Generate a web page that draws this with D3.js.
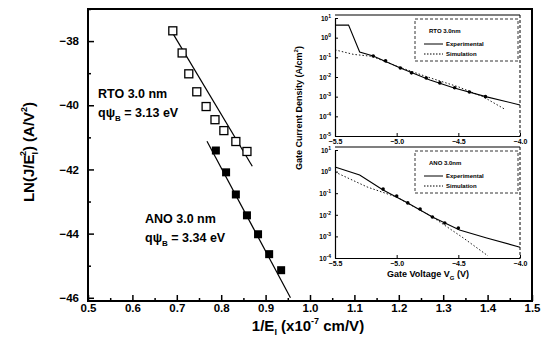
<!DOCTYPE html>
<html>
<head>
<meta charset="utf-8">
<script src="https://cdn.jsdelivr.net/npm/d3@7"></script>
<style>
  body { margin: 0; background: #fff; }
  svg { font-family: "Liberation Sans", Arial, sans-serif; font-weight: bold; }
</style>
</head>
<body>
<div id="chart"></div>
<script>
// main plot: ln(J/E^2) vs 1/E
const rtoX = [0.691, 0.712, 0.727, 0.745, 0.766, 0.786, 0.806, 0.833, 0.858];
const rtoY = [-37.68, -38.37, -39.02, -39.58, -40.04, -40.45, -40.79, -41.13, -41.44];
const anoX = [0.788, 0.811, 0.833, 0.858, 0.883, 0.908, 0.935];
const anoY = [-41.41, -42.09, -42.78, -43.43, -44.02, -44.64, -45.14];
const rtoFitX = [0.685, 0.870];
const rtoFitY = [-37.62, -41.90];
const anoFitX = [0.768, 0.956];
const anoFitY = [-41.12, -46.0];
const xTicks = [0.5, 0.6, 0.7, 0.8, 0.9, 1.0, 1.1, 1.2, 1.3, 1.4, 1.5];
const yTicks = [-38, -40, -42, -44, -46];

// inset: gate current density (log10) vs gate voltage
const vTicks = [-5.5, -5.0, -4.5, -4.0];
const topExpTicks = [1, 0, -1, -2, -3, -4, -5];
const botExpTicks = [1, 0, -1, -2, -3, -4];
const rtoExpV = [-5.5, -5.39, -5.30, -5.19, -4.97, -4.73, -4.54, -4.27, -4.0];
const rtoExpJ = [0.64, 0.64, -0.73, -0.93, -1.54, -2.15, -2.55, -3.01, -3.42];
const rtoSimV = [-5.5, -5.35, -5.2, -5.0, -4.75, -4.5, -4.3, -4.12];
const rtoSimJ = [-0.62, -0.85, -0.95, -1.45, -2.0, -2.5, -3.0, -3.65];
const rtoDotV = [-5.19, -5.09, -4.97, -4.88, -4.76, -4.65, -4.53, -4.41, -4.28];
const rtoDotJ = [-0.93, -1.18, -1.54, -1.79, -2.05, -2.30, -2.55, -2.76, -3.0];
const anoExpV = [-5.5, -5.30, -5.11, -4.91, -4.71, -4.49, -4.27, -4.0];
const anoExpJ = [0.21, -0.16, -0.85, -1.45, -2.10, -2.70, -3.07, -3.5];
const anoSimV = [-5.5, -5.24, -5.0, -4.71, -4.46, -4.26];
const anoSimJ = [-0.02, -0.71, -1.18, -2.1, -3.07, -3.9];
const anoDotV = [-5.11, -5.0, -4.91, -4.81, -4.71, -4.61, -4.50];
const anoDotJ = [-0.81, -1.13, -1.45, -1.73, -2.10, -2.38, -2.61];

const width = 545, height = 345;
const svg = d3.select('#chart').append('svg')
  .attr('width', width)
  .attr('height', height);

const x = d3.scaleLinear().domain([0.5, 1.5]).range([88, 532]);
const y = d3.scaleLinear().domain([-46.1, -37]).range([301, 9]);

// frame
svg.append('rect')
  .attr('x', x(0.5)).attr('y', y(-37))
  .attr('width', x(1.5) - x(0.5)).attr('height', y(-46.1) - y(-37))
  .attr('fill', 'none').attr('stroke', '#000').attr('stroke-width', 2);

// axes (ticks inward)
const xAxis = svg.append('g')
  .attr('transform', `translate(0,${y(-46.1)})`)
  .call(d3.axisBottom(x).tickValues(xTicks).tickSize(-6).tickSizeOuter(0).tickPadding(3).tickFormat(d3.format('.1f')));
svg.append('g')
  .attr('transform', `translate(0,${y(-46.1)})`)
  .call(d3.axisBottom(x).tickValues(d3.range(0.55, 1.5, 0.1)).tickSize(-3).tickSizeOuter(0).tickFormat(''));
const yAxis = svg.append('g')
  .attr('transform', `translate(${x(0.5)},0)`)
  .call(d3.axisLeft(y).tickValues(yTicks).tickSize(-6).tickSizeOuter(0).tickPadding(9));
svg.append('g')
  .attr('transform', `translate(${x(0.5)},0)`)
  .call(d3.axisLeft(y).tickValues([-37, -39, -41, -43, -45]).tickSize(-3).tickSizeOuter(0).tickFormat(''));
svg.selectAll('.domain').remove();
svg.selectAll('.tick line').attr('stroke-width', 1.5);
xAxis.selectAll('text').style('font-size', '11.5px').style('font-weight', 'bold');
yAxis.selectAll('text').style('font-size', '11.5px').style('font-weight', 'bold');

// fit lines
const line = d3.line().x(d => x(d[0])).y(d => y(d[1]));
svg.append('path').datum(d3.zip(rtoFitX, rtoFitY))
  .attr('d', line).attr('stroke', '#000').attr('stroke-width', 1.2).attr('fill', 'none');
svg.append('path').datum(d3.zip(anoFitX, anoFitY))
  .attr('d', line).attr('stroke', '#000').attr('stroke-width', 1.2).attr('fill', 'none');

// points
const s = 8;
svg.selectAll('.rto').data(d3.zip(rtoX, rtoY)).enter().append('rect')
  .attr('x', d => x(d[0]) - s / 2).attr('y', d => y(d[1]) - s / 2)
  .attr('width', s).attr('height', s)
  .attr('fill', '#fff').attr('stroke', '#000').attr('stroke-width', 1.3);
svg.selectAll('.ano').data(d3.zip(anoX, anoY)).enter().append('rect')
  .attr('x', d => x(d[0]) - s / 2).attr('y', d => y(d[1]) - s / 2)
  .attr('width', s).attr('height', s)
  .attr('fill', '#000');

// annotations
function psiLabel(xp, yp, first, value) {
  const t = svg.append('text').attr('x', xp).attr('y', yp).style('font-size', '12.5px');
  t.text(first);
  const t2 = svg.append('text').attr('x', xp).attr('y', yp + 19).style('font-size', '12.5px');
  t2.append('tspan').text('qψ');
  t2.append('tspan').attr('dy', 4).style('font-size', '8px').text('B');
  t2.append('tspan').attr('dy', -4).text(' = ' + value);
}
psiLabel(98, 98, 'RTO 3.0 nm', '3.13 eV');
psiLabel(145, 223, 'ANO 3.0 nm', '3.34 eV');

// axis titles
const xt = svg.append('text').attr('x', 308).attr('y', 331)
  .attr('text-anchor', 'middle').style('font-size', '15px');
xt.append('tspan').text('1/E');
xt.append('tspan').attr('dy', 4).style('font-size', '9px').text('I');
xt.append('tspan').attr('dy', -4).text(' (x10');
xt.append('tspan').attr('dy', -7).style('font-size', '9px').text('-7');
xt.append('tspan').attr('dy', 7).text(' cm/V)');

const yt = svg.append('text')
  .attr('transform', 'translate(34,152) rotate(-90)')
  .attr('text-anchor', 'middle').style('font-size', '15px');
yt.append('tspan').text('LN(J/E');
yt.append('tspan').attr('dy', 4).style('font-size', '9px').text('I');
yt.append('tspan').attr('dx', -4).attr('dy', -12).style('font-size', '9px').text('2');
yt.append('tspan').attr('dy', 8).text(') (A/V');
yt.append('tspan').attr('dy', -7).style('font-size', '9px').text('2');
yt.append('tspan').attr('dy', 7).text(')');

// ---------- inset ----------
const vx = d3.scaleLinear().domain([-5.5, -4.0]).range([335, 520]);
const topY = d3.scaleLinear().domain([-5, 1]).range([136, 18]);
const botY = d3.scaleLinear().domain([-4, 1]).range([258, 150]);

function panel(yScale, expTicks, expV, expJ, simV, simJ, dotV, dotJ, name, legTop) {
  const g = svg.append('g');
  const x0 = vx(-5.5), x1 = vx(-4.0);
  const yb = yScale(expTicks[expTicks.length - 1]), yt0 = yScale(expTicks[0]) - 3;
  g.append('rect').attr('x', x0).attr('y', yt0).attr('width', x1 - x0).attr('height', yb - yt0)
    .attr('fill', '#fff').attr('stroke', 'none');
  g.append('line').attr('x1', x0).attr('x2', x1).attr('y1', yt0).attr('y2', yt0)
    .attr('stroke', '#000').attr('stroke-width', 1.2);
  g.append('line').attr('x1', x1).attr('x2', x1).attr('y1', yt0).attr('y2', yb)
    .attr('stroke', '#000').attr('stroke-dasharray', '3,2');

  const ax = g.append('g').attr('transform', `translate(0,${yb})`)
    .call(d3.axisBottom(vx).tickValues(vTicks).tickSize(-3).tickSizeOuter(0).tickPadding(3).tickFormat(d3.format('.1f')));
  const ay = g.append('g').attr('transform', `translate(${x0},0)`)
    .call(d3.axisLeft(yScale).tickValues(expTicks).tickSize(-3).tickSizeOuter(0).tickPadding(3).tickFormat(''));
  ax.select('.domain').attr('stroke-width', 1.2);
  ay.select('.domain').attr('stroke-width', 1.2);
  ax.selectAll('text').style('font-size', '7px').style('font-weight', 'bold');
  ay.selectAll('.tick').append('text')
    .attr('x', -4).attr('dy', '0.35em').attr('text-anchor', 'end')
    .style('font-size', '6.5px').attr('fill', '#000')
    .each(function(d) {
      const t = d3.select(this);
      t.append('tspan').text('10');
      t.append('tspan').attr('dy', -3).style('font-size', '5px').text(d);
    });

  const ln = d3.line().x(d => vx(d[0])).y(d => yScale(d[1]));
  g.append('path').datum(d3.zip(simV, simJ)).attr('d', ln)
    .attr('fill', 'none').attr('stroke', '#000').attr('stroke-width', 0.9).attr('stroke-dasharray', '1.5,2');
  g.append('path').datum(d3.zip(expV, expJ)).attr('d', ln)
    .attr('fill', 'none').attr('stroke', '#000').attr('stroke-width', 1.1);
  g.selectAll('.dot').data(d3.zip(dotV, dotJ)).enter().append('circle')
    .attr('cx', d => vx(d[0])).attr('cy', d => yScale(d[1])).attr('r', 1.8).attr('fill', '#000');

  // legend
  const lx = 415, lw = 103;
  g.append('rect').attr('x', lx).attr('y', legTop).attr('width', lw).attr('height', 42)
    .attr('fill', '#fff').attr('stroke', '#000').attr('stroke-width', 0.8).attr('stroke-dasharray', '3,2');
  g.append('text').attr('x', lx + 14).attr('y', legTop + 14).style('font-size', '6px').text(name);
  g.append('line').attr('x1', lx + 9).attr('x2', lx + 28).attr('y1', legTop + 25).attr('y2', legTop + 25)
    .attr('stroke', '#000');
  g.append('text').attr('x', lx + 31).attr('y', legTop + 27).style('font-size', '6px').text('Experimental');
  g.append('line').attr('x1', lx + 9).attr('x2', lx + 28).attr('y1', legTop + 35).attr('y2', legTop + 35)
    .attr('stroke', '#000').attr('stroke-dasharray', '1.5,1.5');
  g.append('text').attr('x', lx + 31).attr('y', legTop + 37).style('font-size', '6px').text('Simulation');
}
panel(topY, topExpTicks, rtoExpV, rtoExpJ, rtoSimV, rtoSimJ, rtoDotV, rtoDotJ, 'RTO 3.0nm', 19);
panel(botY, botExpTicks, anoExpV, anoExpJ, anoSimV, anoSimJ, anoDotV, anoDotJ, 'ANO 3.0nm', 151);

const gv = svg.append('text').attr('x', 428).attr('y', 277)
  .attr('text-anchor', 'middle').style('font-size', '9px');
gv.append('tspan').text('Gate Voltage V');
gv.append('tspan').attr('dy', 3).style('font-size', '6px').text('G');
gv.append('tspan').attr('dy', -3).text(' (V)');

const gc = svg.append('text').attr('transform', 'translate(302,108) rotate(-90)')
  .attr('text-anchor', 'middle').style('font-size', '9px');
gc.append('tspan').text('Gate Current Density (A/cm');
gc.append('tspan').attr('dy', -4).style('font-size', '6px').text('2');
gc.append('tspan').attr('dy', 4).text(')');
</script>
</body>
</html>
